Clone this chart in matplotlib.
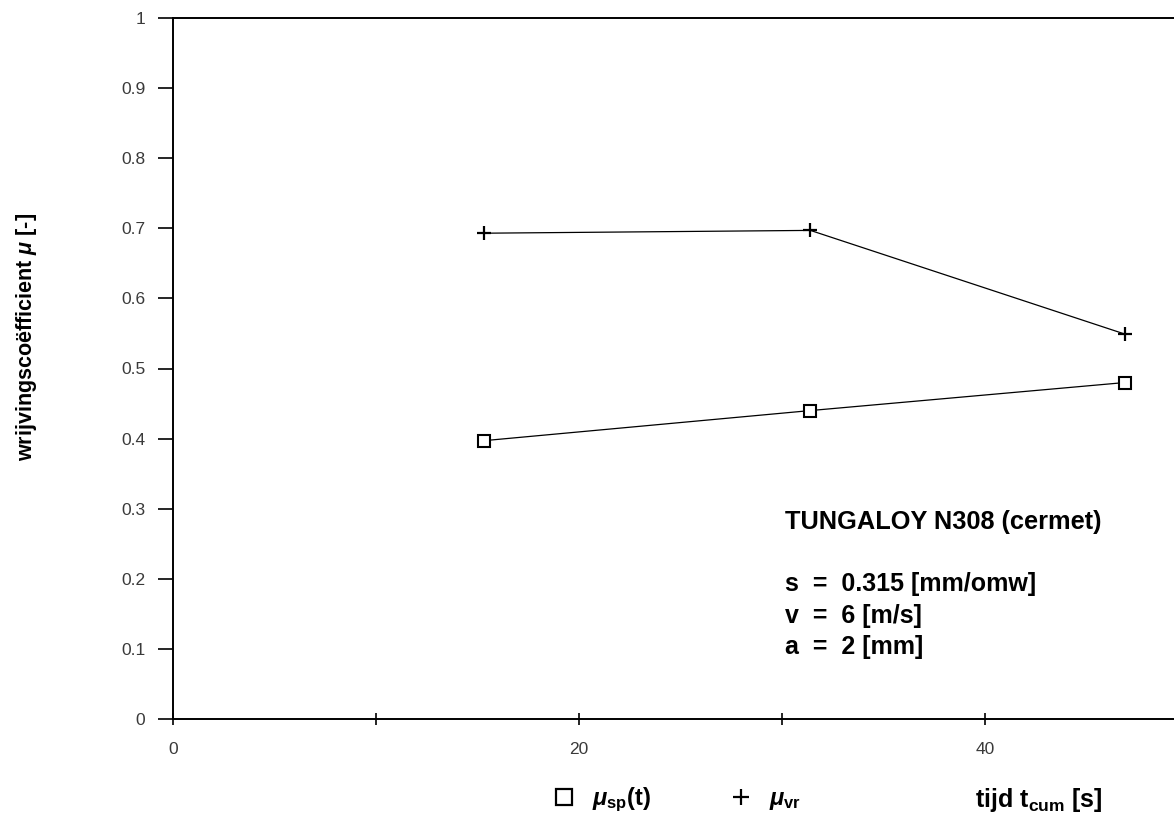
import numpy as np
import matplotlib
matplotlib.use('Agg')
import matplotlib.pyplot as plt
from matplotlib.lines import Line2D

plt.rcParams['font.family'] = ['Liberation Sans', 'DejaVu Sans']
plt.rcParams['mathtext.fontset'] = 'custom'
plt.rcParams['mathtext.rm'] = 'Liberation Sans:bold'
plt.rcParams['mathtext.it'] = 'Liberation Sans:bold:italic'
plt.rcParams['mathtext.bf'] = 'Liberation Sans:bold'

# Data (tijd t_cum in s, wrijvingscoefficient)
t = np.array([15.3, 31.4, 46.9])
mu_sp = np.array([0.397, 0.440, 0.480])
mu_vr = np.array([0.693, 0.697, 0.549])

y_ticks = np.round(np.arange(0, 1.01, 0.1), 1)
y_labels = ['0', '0.1', '0.2', '0.3', '0.4', '0.5', '0.6', '0.7', '0.8', '0.9', '1']
x_ticks = [0, 20, 40]
x_labels = ['0', '20', '40']

W, H = 1174, 816
fig = plt.figure(figsize=(W / 100, H / 100), dpi=100)
ax = fig.add_axes([173 / W, 1 - 719 / H, 1 - 173 / W, (719 - 18) / H])

ax.plot(t, mu_sp, '-', color='black', lw=0.9, marker='s', ms=8, mfc='white',
        mec='black', mew=1.5)
ax.plot(t, mu_vr, '-', color='black', lw=0.9, marker='+', ms=10.5, mew=1.6)

ax.set_xlim(0, (W - 173) / 20.3)
ax.set_ylim(0, 1)
ax.set_yticks(y_ticks)
ax.set_yticklabels(y_labels)
ax.set_xticks(x_ticks)
ax.set_xticklabels(x_labels)
ax.set_xticks([10, 30], minor=True)

ax.spines['right'].set_visible(False)
for s in ['left', 'top', 'bottom']:
    ax.spines[s].set_linewidth(1.4)

ax.tick_params(axis='y', direction='out', length=11, width=1.2, pad=9,
               labelsize=12.5, labelcolor='#3a3a3a')
ax.tick_params(axis='x', which='both', direction='inout', length=9, width=1.2, pad=12,
               labelsize=12.5, labelcolor='#3a3a3a')

ax.set_ylabel(r'wrijvingscoëfficient $\mu$ [-]', fontsize=15.5, fontweight='bold')
ax.yaxis.set_label_coords(-0.146, 0.545)
ax.yaxis.label.set_va('center')

ax.set_xlabel(r'tijd t$_{\mathrm{cum}}$ [s]', fontsize=18, fontweight='bold')
ax.xaxis.set_label_coords(0.865, -0.1155)
ax.xaxis.label.set_va('center')

# Annotatie
x0 = (785 - 173) / 1001
ax.text(x0, (719 - 522) / 701, 'TUNGALOY N308 (cermet)', transform=ax.transAxes,
        fontsize=18.3, fontweight='bold', va='center', ha='left')
for txt, yp in [('s  =  0.315 [mm/omw]', 584), ('v  =  6 [m/s]', 616), ('a  =  2 [mm]', 647)]:
    ax.text(x0, (719 - yp) / 701, txt, transform=ax.transAxes,
            fontsize=18, fontweight='bold', va='center', ha='left')

handles = [Line2D([], [], ls='none', marker='s', ms=11, mfc='white', mec='black', mew=1.6),
           Line2D([], [], ls='none', marker='+', ms=11, mec='black', mew=1.6)]
fig.legend(handles, [r'$\mu_{\mathrm{sp}}$(t)', r'$\mu_{\mathrm{vr}}$'],
           loc='center left', bbox_to_anchor=(552 / W, 1 - 800 / H), ncol=2,
           frameon=False, prop={'size': 17, 'weight': 'bold'},
           handlelength=1.0, handletextpad=0.7,
           columnspacing=3.3, borderpad=0, borderaxespad=0)

fig.savefig('out.png', dpi=100)
